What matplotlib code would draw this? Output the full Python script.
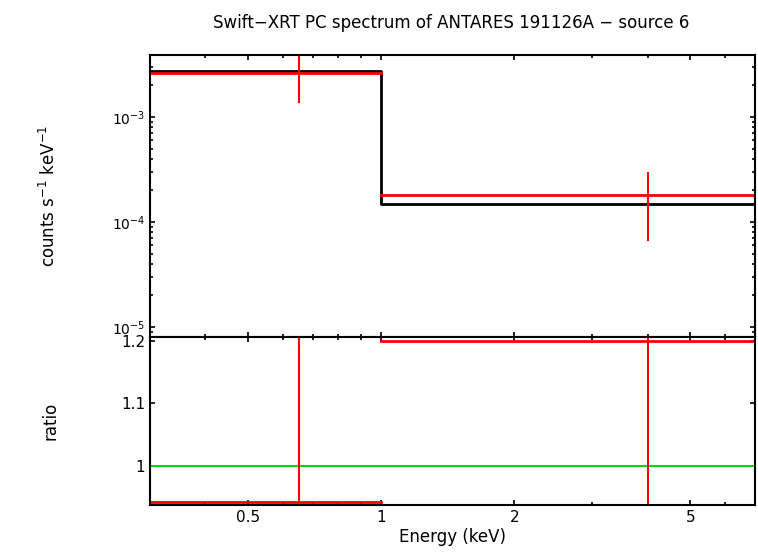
import matplotlib
matplotlib.use("Agg")
import matplotlib.pyplot as plt
from matplotlib.ticker import FixedLocator, NullFormatter

bin_lo = [0.3, 1.0]
bin_hi = [1.0, 7.0]
x_center = [0.65, 4.02]
rate = [2.62e-3, 1.81e-4]
rate_err_lo = [1.23e-3, 1.14e-4]
rate_err_hi = [1.1e-3, 1.12e-4]
model = [2.72e-3, 1.48e-4]
ratio = [0.9424, 1.2]
ratio_err = [0.6, 0.8]

fig = plt.figure(figsize=(7.58, 5.56), dpi=100)
ax1 = fig.add_axes([150/758, 1-337/556, 605/758, 282/556])
ax2 = fig.add_axes([150/758, 1-505/556, 605/758, 168/556], sharex=ax1)

for ax in (ax1, ax2):
    ax.set_xscale('log')
    ax.set_xlim(0.3, 7.0)
    for s in ax.spines.values():
        s.set_linewidth(1.5)
    ax.tick_params(which='both', direction='in', top=True, right=True, width=1.2, labelsize=11)

edges = [bin_lo[0]] + bin_hi
ax1.step(edges, model + [model[-1]], where='post', color='black', lw=2)
for i in range(2):
    ax1.plot([bin_lo[i], bin_hi[i]], [rate[i]]*2, color='red', lw=2)
    ax1.plot([x_center[i]]*2, [rate[i]-rate_err_lo[i], rate[i]+rate_err_hi[i]], color='red', lw=1.5)
ax1.set_yscale('log')
ax1.set_ylim(8e-6, 3.9e-3)
ax1.set_ylabel('counts s$^{-1}$ keV$^{-1}$', fontsize=12)
ax1.tick_params(labelbottom=False)
ax1.set_yticks([1e-5, 1e-4, 1e-3])
for t in ax1.get_yticklabels():
    t.set_fontsize(10)

ax2.axhline(1.0, color='#00dd00', lw=1.5)
for i in range(2):
    ax2.plot([bin_lo[i], bin_hi[i]], [ratio[i]]*2, color='red', lw=2)
    ax2.plot([x_center[i]]*2, [ratio[i]-ratio_err[i], ratio[i]+ratio_err[i]], color='red', lw=1.5)
ax2.set_ylim(0.9376, 1.2064)
ax2.set_yticks([1.0, 1.1, 1.2])
ax2.set_yticklabels(['1', '1.1', '1.2'])
ax2.set_ylabel('ratio', fontsize=12)
ax2.set_xlabel('Energy (keV)', fontsize=12, labelpad=2)
ax2.xaxis.set_major_locator(FixedLocator([0.5, 1, 2, 5]))
ax2.set_xticklabels(['0.5', '1', '2', '5'])
ax2.xaxis.set_minor_formatter(NullFormatter())
ax1.yaxis.set_label_coords(-0.15, 0.5)
ax2.yaxis.set_label_coords(-0.15, 0.5)

fig.suptitle('Swift\u2212XRT PC spectrum of ANTARES 191126A \u2212 source 6', x=0.595, y=0.975, fontsize=12)
fig.savefig('out.png', dpi=100)
